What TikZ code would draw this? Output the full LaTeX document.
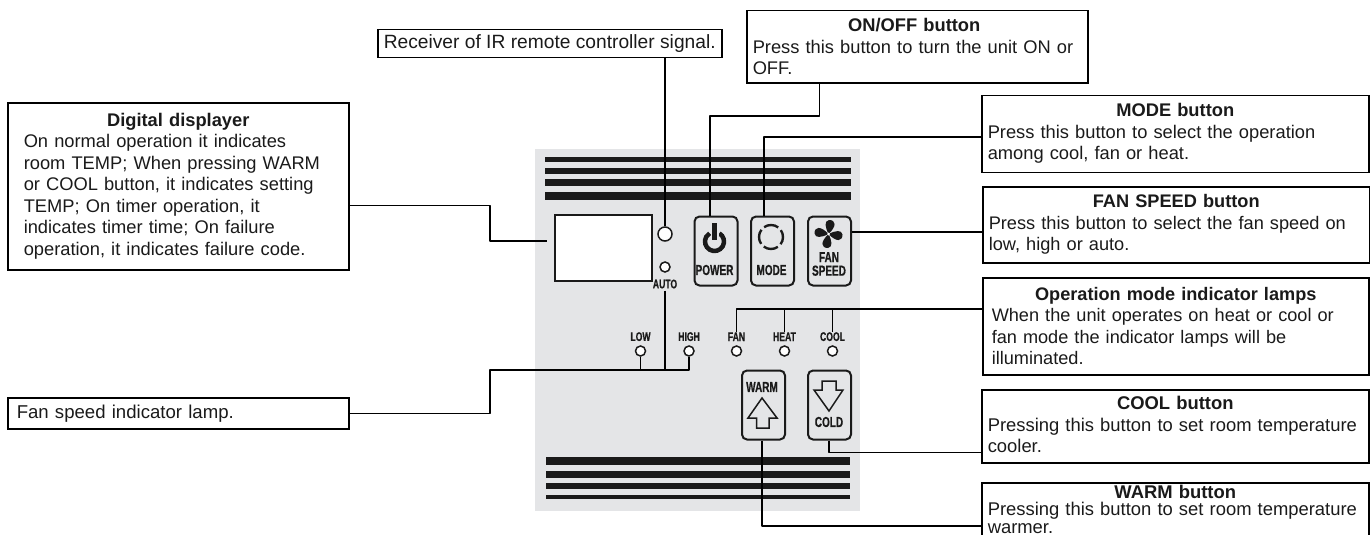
\documentclass[tikz,border=0pt]{standalone}
\usepackage{fontspec}
\setmainfont{Liberation Sans}
\newfontfamily\panelfont[FakeStretch=.69,FakeBold=.6]{Liberation Sans Bold}
\usepackage{xcolor}
\usepackage{tikz}
\usetikzlibrary{arrows.meta,positioning,calc}
\definecolor{panelgrey}{HTML}{E4E5E7}
\definecolor{inkblack}{HTML}{1A1A1A}
\newcommand{\boxhead}[1]{\makebox[\linewidth][c]{\textbf{#1}}}

\begin{document}
\begin{tikzpicture}[x=1pt,y=-1pt,
    callout/.style={draw=black,line width=1.5pt,anchor=north west,align=left,inner xsep=6pt,inner ysep=0pt,
      font=\fontsize{18.3}{21.5}\selectfont,text=inkblack},
    lead/.style={draw=black,line width=1.4pt,line join=round},
    bar/.style={fill=inkblack,draw=none},
    btn/.style={draw=inkblack,line width=2pt,rounded corners=5pt,anchor=north west,inner sep=0pt,
      minimum width=43pt,minimum height=69pt},
    lamp/.style={circle,draw=inkblack,fill=white,line width=1.5pt,minimum size=10pt,inner sep=0pt},
    bigtag/.style={font=\fontsize{14.5}{14.5}\panelfont,text=inkblack,inner sep=0pt},
    tag/.style={font=\fontsize{12.5}{12.5}\panelfont,text=inkblack,inner sep=0pt}
  ]
    \useasboundingbox (0,0) rectangle (1370,535);
    % panel
    \fill[panelgrey] (535,149) rectangle (860,511);
    \fill[bar] (545,157) rectangle (851,162);
    \fill[bar] (545,168) rectangle (851,174);
    \fill[bar] (545,179) rectangle (851,186);
    \fill[bar] (545,192) rectangle (851,200);
    \fill[bar] (546,457) rectangle (850,465);
    \fill[bar] (546,471) rectangle (850,478);
    \fill[bar] (546,483) rectangle (850,489);
    \fill[bar] (546,495) rectangle (850,499);

    \node[draw=inkblack,fill=white,line width=2pt,anchor=north west,minimum width=97pt,minimum height=66pt] (display) at (554,214) {};
    \node[lamp,minimum size=14pt] (irlamp) at (665,234) {};
    \node[lamp] (autolamp) at (665,267) {};
    \node[tag] (autotag) at (665,284) {AUTO};

    \node[btn] (power) at (693.5,215.5) {};
    \node[btn] (mode) at (750,215.5) {};
    \node[btn] (fan) at (807,215.5) {};
    \node[btn] (warm) at (741,369.5) {};
    \node[btn] (cold) at (807,369.5) {};
    \node[bigtag] (powertag) at (714.5,270) {POWER};
    \node[bigtag] (modetag) at (771.5,270) {MODE};
    \node[bigtag,align=center,font=\fontsize{14.5}{13.5}\panelfont] (fanspeedtag) at (829,264) {FAN\\SPEED};
    \node[bigtag] (warmtag) at (762,387) {WARM};
    \node[bigtag] (coldtag) at (829,422) {COLD};

    % power icon
    \draw[inkblack,line width=4.5pt] (714.5,241.5) ++(-60:9.5) arc[start angle=-60,end angle=240,radius=9.5];
    \draw[panelgrey,line width=8pt] (714.5,226) -- (714.5,236);
    \draw[inkblack,line width=4.5pt] (714.5,223) -- (714.5,240);
    % mode icon
    \foreach \a in {37,127,217,307}
      \draw[inkblack,line width=2.4pt] ([shift={(\a:12)}]771,237) arc[start angle=\a,delta angle=-72,radius=12];
    % fan icon
    \foreach \a in {0,90,180,270}
      \fill[inkblack,rotate around={\a:(828.5,234)}] (828.5,234) .. controls (825,227) and (824,221) .. (829,220) .. controls (836,220) and (837,226) .. (828.5,234) -- cycle;
    \fill[white] (828.5,234) circle[radius=1.5];
    % arrows
    \draw[inkblack,line width=1.5pt,line join=miter] (762,398) -- (777,418) -- (769,418) -- (769,428) -- (756.5,428) -- (756.5,418) -- (748,418) -- cycle;
    \draw[inkblack,line width=1.5pt,line join=miter] (829,411) -- (843,390) -- (836,390) -- (836,381) -- (822,381) -- (822,390) -- (814,390) -- cycle;

    % lamps row
    \node[lamp] (lowlamp) at (640.5,351) {};
    \node[lamp] (highlamp) at (689,351) {};
    \node[lamp] (fanlamp) at (736.5,351) {};
    \node[lamp] (heatlamp) at (784.5,351) {};
    \node[lamp] (coollamp) at (832.5,351) {};
    \node[tag,above=4pt of lowlamp] (lowtag) {LOW};
    \node[tag,above=4pt of highlamp] (hightag) {HIGH};
    \node[tag,above=4pt of fanlamp] (fantag) {FAN};
    \node[tag,above=4pt of heatlamp] (heattag) {HEAT};
    \node[tag,above=4pt of coollamp] (cooltag) {COOL};

    % callouts
    \node[callout,inner xsep=16pt,text width=309pt,minimum width=341pt,minimum height=167pt] (digital) at (7,102) {\boxhead{Digital displayer}\\
      On normal operation it indicates\\room TEMP; When pressing WARM\\or COOL button, it indicates setting\\
      TEMP; On timer operation, it\\indicates timer time; On failure\\operation, it indicates failure code.};
    \node[callout,minimum width=344pt,minimum height=28pt,font=\fontsize{19.2}{21.5}\selectfont] (receiver) at (377,29) {Receiver of IR remote controller signal.};
    \node[callout,text width=329pt,minimum width=341pt,minimum height=72pt] (onoff) at (746,10) {\boxhead{ON/OFF button\hspace{6pt}}\\
      Press this button to turn the unit ON or\\OFF.};
    \node[callout,text width=375pt,minimum width=387pt,minimum height=77pt] (modebox) at (981,94.5) {\boxhead{MODE button}\\
      Press this button to select the operation\\among cool, fan or heat.};
    \node[callout,text width=375pt,minimum width=386pt,minimum height=76pt,font=\fontsize{18.2}{21.5}\selectfont] (fanbox) at (982,186) {\boxhead{FAN SPEED button}\\
      Press this button to select the fan speed on\\low, high or auto.};
    \node[callout,inner xsep=9pt,text width=368pt,minimum width=386pt,minimum height=97pt,font=\fontsize{18.15}{21.5}\selectfont] (lampbox) at (982,277) {\boxhead{Operation mode indicator lamps}\\
      When the unit operates on heat or cool or\\fan mode the indicator lamps will be\\illuminated.};
    \node[callout,text width=375pt,minimum width=387pt,minimum height=73pt,font=\fontsize{18.4}{21.5}\selectfont] (coolbox) at (981,389) {\boxhead{COOL button}\\
      Pressing this button to set room temperature\\cooler.\par\vspace{3pt}};
    \node[callout,text width=375pt,minimum width=387pt,minimum height=56pt,font=\fontsize{18.4}{17.8}\selectfont] (warmbox) at (981,482) {\boxhead{WARM button}\\
      Pressing this button to set room temperature\\warmer.\par\vspace{3pt}};
    \node[callout,inner xsep=9pt,minimum width=341pt,minimum height=31pt,text width=323pt,font=\fontsize{18.6}{21.5}\selectfont] (fanlampbox) at (7,397) {Fan speed indicator lamp.};

    % leads
    \coordinate (dispend) at (547,241);
    \draw[lead] (digital.east |- 0,205.5) -| (490,241) -- (dispend);
    \draw[lead] (receiver.south -| irlamp) -- (irlamp);
    \draw[lead] (onoff.south -| 819.5,0) |- (710,116) -- (power.north -| 710,0);
    \draw[lead] (modebox.west |- 0,137) -| (mode.north -| 764,0);
    \draw[lead] (fan.east |- 0,232) -- (fanbox.west |- 0,232);
    \draw[lead] (lampbox.west |- 0,309) -| (fantag.north);
    \draw[lead] (784.5,309) -- (heattag.north);
    \draw[lead] (832.5,309) -- (cooltag.north);
    \draw[lead] (fanlampbox.east) -| (490,370) -| (highlamp.south);
    \draw[lead] (lowlamp.south) -- (640.5,370);
    \draw[lead,shorten <=2pt] (autotag.south) -- (665,370);
    \draw[lead] (cold.south -| 829,0) |- (coolbox.west |- 0,452.5);
    \draw[lead] (warm.south -| 762,0) |- (warmbox.west |- 0,526);
\end{tikzpicture}
\end{document}
